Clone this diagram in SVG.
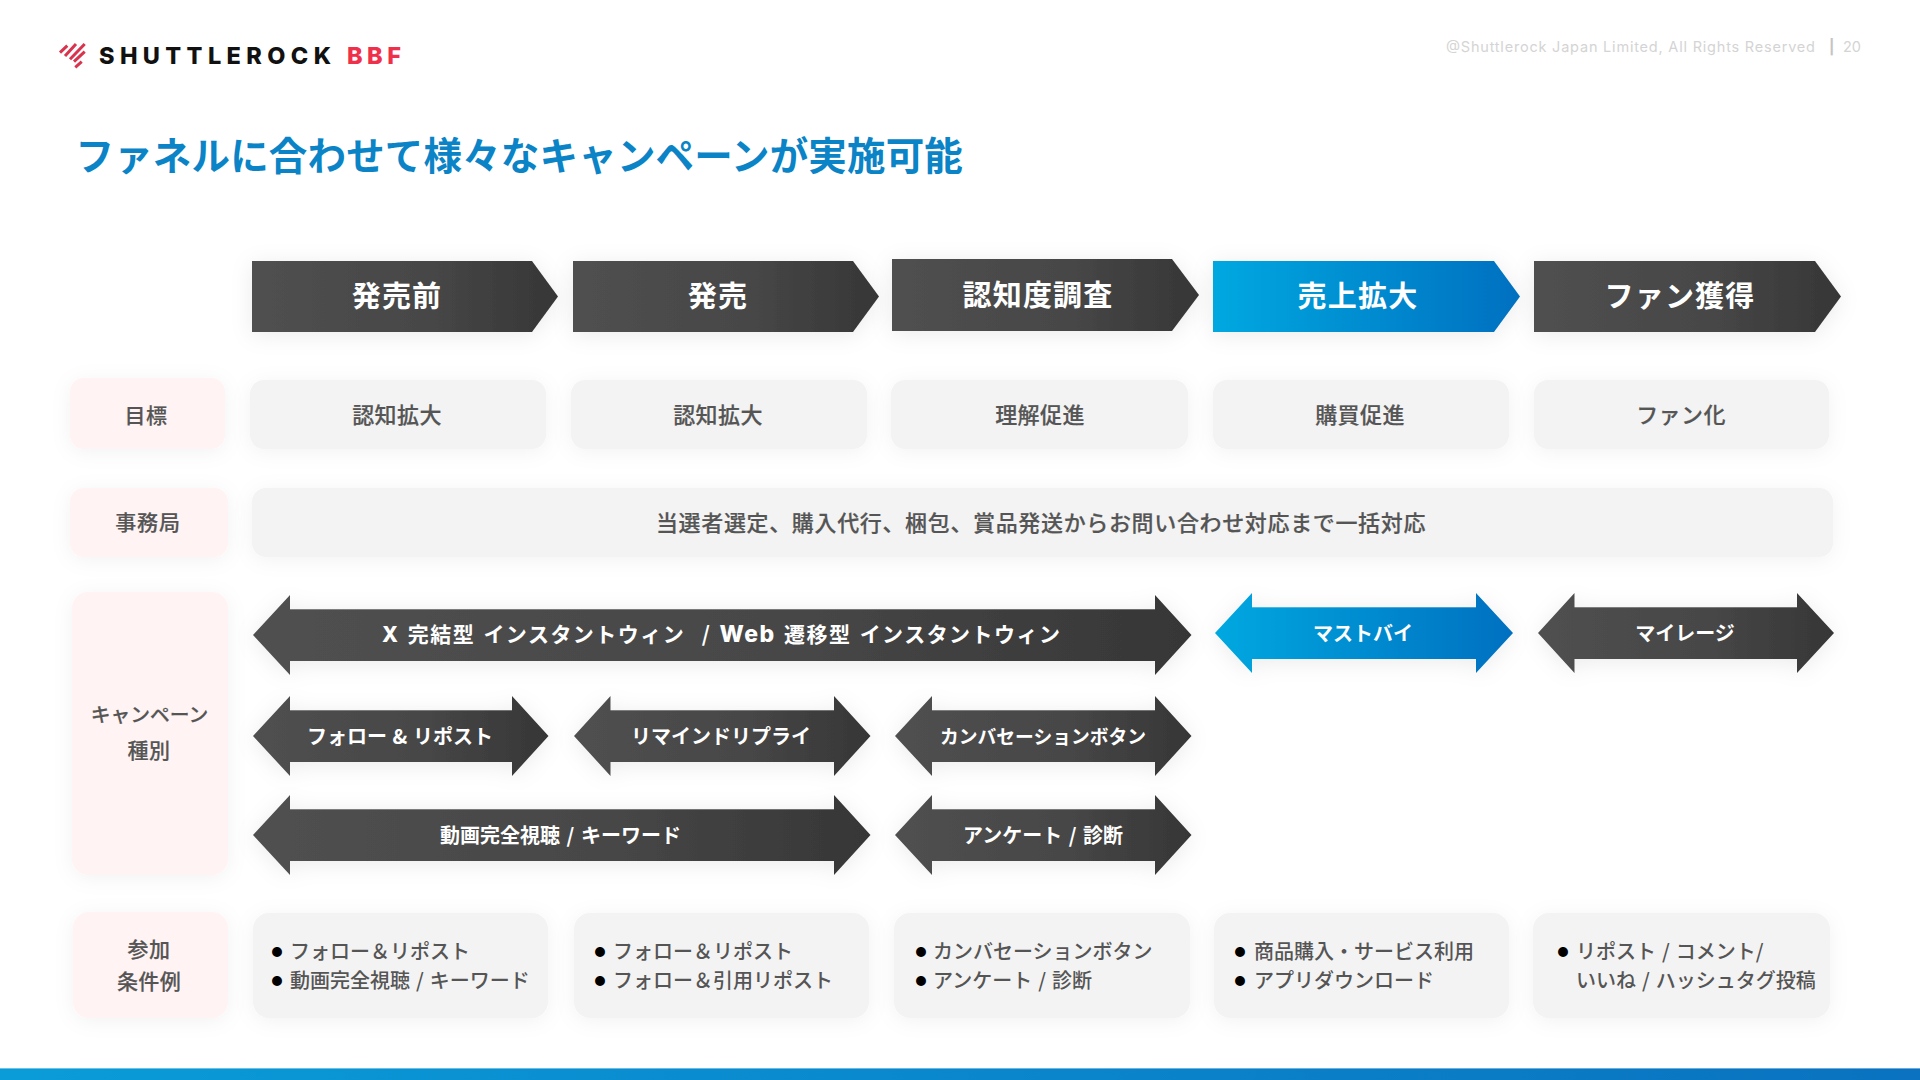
<svg xmlns="http://www.w3.org/2000/svg" width="1920" height="1080" viewBox="0 0 1920 1080">
<style>
text{font-family:"Noto Sans CJK JP","Noto Sans",sans-serif;text-anchor:middle}
.h{font-size:29px;font-weight:700;fill:#fff;letter-spacing:1.2px}
.c{font-size:22px;font-weight:500;fill:#555;letter-spacing:.4px;stroke:#555;stroke-width:.2px}
.l{font-size:21px;font-weight:500;fill:#555;letter-spacing:.4px;stroke:#555;stroke-width:.2px}
.a{font-size:20px;font-weight:700;fill:#fff;word-spacing:2px}
.b{font-size:20px;font-weight:500;fill:#555;text-anchor:start;word-spacing:1.5px}
.d{font-size:11px;fill:#000}
.cell{fill:#f3f3f3;filter:url(#s)}
.lab{fill:#fff3f3;filter:url(#s)}
.dk{fill:url(#gd);filter:url(#s2)}
.bl{fill:url(#gb);filter:url(#s2)}
.hl{stroke:#fff;stroke-opacity:.28;stroke-width:1}
.st{stroke:#d9344e;stroke-width:3;fill:none}
.logo{font-family:Inter,sans-serif;font-weight:800;font-size:23.5px;text-anchor:start}
.cp{font-family:Inter,sans-serif;font-size:14.5px;fill:#d4d4d4;text-anchor:start}
.w{font-family:Inter,sans-serif;font-weight:800}
</style>
<defs>
<linearGradient id="gd" x1="0" y1="0" x2="1" y2="0"><stop offset="0" stop-color="#505050"/><stop offset=".6" stop-color="#464646"/><stop offset="1" stop-color="#363636"/></linearGradient>
<linearGradient id="gb" x1="0" y1="0" x2="1" y2="0"><stop offset="0" stop-color="#00a8e0"/><stop offset="1" stop-color="#0070c0"/></linearGradient>
<linearGradient id="gbar" x1="0" y1="0" x2="1" y2="0"><stop offset="0" stop-color="#0a9cd9"/><stop offset="1" stop-color="#0a72c0"/></linearGradient>
<filter id="s" x="-20%" y="-40%" width="140%" height="180%"><feDropShadow dx="0" dy="3" stdDeviation="10" flood-color="#000" flood-opacity=".05"/></filter>
<filter id="s2" x="-10%" y="-40%" width="120%" height="180%"><feDropShadow dx="0" dy="3" stdDeviation="11" flood-color="#000" flood-opacity=".08"/></filter>
</defs>
<rect width="1920" height="1080" fill="#fff"/>
<g id="logo">
<path class="st" d="M60 52.700L67.300 45.700M65 56L76 44M70 59.300L84.700 44M74 61.700L84.700 51.700M75.300 67.300L81.700 61.700"/>
<text class="logo" x="99" y="64" fill="#111" textLength="232">SHUTTLEROCK</text>
<text class="logo" x="347" y="64" fill="#f0304a" textLength="54">BBF</text>
</g>
<g id="copyright">
<text class="cp" x="1446" y="52" textLength="369">@Shuttlerock Japan Limited, All Rights Reserved</text>
<text class="cp" x="1829" y="52" style="font-weight:700;fill:#c4c4c4">|</text>
<text class="cp" x="1843" y="52">20</text>
</g>
<g id="title"><text x="75.5" y="170" style="text-anchor:start;font-size:38.5px;font-weight:700;fill:#0a84c6;letter-spacing:.17px">ファネルに合わせて様々なキャンペーンが実施可能</text></g>

<g id="header-1"><polygon class="dk" points="252,261 532,261 558,296.5 532,332 252,332"/><text class="h" x="397" y="307">発売前</text></g>
<g id="header-2"><polygon class="dk" points="573,261 853,261 879,296.5 853,332 573,332"/><text class="h" x="718" y="307">発売</text></g>
<g id="header-3"><polygon class="dk" points="892,259 1172,259 1199,295 1172,331 892,331"/><text class="h" x="1038" y="306">認知度調査</text></g>
<g id="header-4"><polygon class="bl" points="1213,261 1494,261 1520,296.5 1494,332 1213,332"/><text class="h" x="1358" y="307">売上拡大</text></g>
<g id="header-5"><polygon class="dk" points="1534,261 1815,261 1841,296.5 1815,332 1534,332"/><text class="h" x="1680" y="307">ファン獲得</text></g>

<g id="label-goal"><rect class="lab" x="70" y="378" width="155" height="71" rx="14"/><text class="l" x="146" y="423">目標</text></g>
<g id="goal-1"><rect class="cell" x="250" y="380" width="296" height="69" rx="14"/><text class="c" x="397" y="423">認知拡大</text></g>
<g id="goal-2"><rect class="cell" x="571" y="380" width="296" height="69" rx="14"/><text class="c" x="718" y="423">認知拡大</text></g>
<g id="goal-3"><rect class="cell" x="891" y="380" width="297" height="69" rx="14"/><text class="c" x="1040" y="423">理解促進</text></g>
<g id="goal-4"><rect class="cell" x="1213" y="380" width="296" height="69" rx="14"/><text class="c" x="1360" y="423">購買促進</text></g>
<g id="goal-5"><rect class="cell" x="1534" y="380" width="295" height="69" rx="14"/><text class="c" x="1681" y="423">ファン化</text></g>

<g id="label-office"><rect class="lab" x="70" y="488" width="158" height="69" rx="14"/><text class="l" x="148" y="530" style="letter-spacing:.8px">事務局</text></g>
<g id="office"><rect class="cell" x="252" y="488" width="1581" height="69" rx="14"/><text class="c" style="letter-spacing:.65px" x="1041" y="531">当選者選定、購入代行、梱包、賞品発送からお問い合わせ対応まで一括対応</text></g>

<g id="label-campaign"><rect class="lab" x="72" y="592" width="156" height="283" rx="16"/><text class="l" x="149.5" y="722" style="font-size:19.8px;letter-spacing:0">キャンペーン</text><text class="l" x="149" y="758">種別</text></g>

<g id="connectors">
<g id="arrow-x-web"><polygon class="dk" points="253,635 290,595 290,609 1155,609 1155,595 1191.5,635 1155,675 1155,661 290,661 290,675"/><path class="hl" d="M290 609.500H1155"/><text class="a" x="721" y="642" style="font-size:21px" textLength="678"><tspan class="w">X</tspan> 完結型 インスタントウィン &#160;/ <tspan class="w" style="font-size:23px">Web</tspan> 遷移型 インスタントウィン</text></g>
<g id="arrow-mustbuy"><polygon class="bl" points="1215,633 1252,593 1252,607 1476,607 1476,593 1513,633 1476,673 1476,659 1252,659 1252,673"/><path class="hl" d="M1252 607.500H1476"/><text class="a" x="1363" y="641">マストバイ</text></g>
<g id="arrow-mileage"><polygon class="dk" points="1538,633 1574.5,593 1574.5,607 1797,607 1797,593 1834,633 1797,673 1797,659 1574.5,659 1574.5,673"/><path class="hl" d="M1574.500 607.500H1797"/><text class="a" x="1685" y="641">マイレージ</text></g>
<g id="arrow-follow"><polygon class="dk" points="253,736 290,696 290,710 512,710 512,696 548.5,736 512,776 512,762 290,762 290,776"/><path class="hl" d="M290 710.500H512"/><text class="a" x="400" y="744" style="word-spacing:1px">フォロー &amp; リポスト</text></g>
<g id="arrow-remind"><polygon class="dk" points="574,736 610.5,696 610.5,710 834,710 834,696 870.5,736 834,776 834,762 610.5,762 610.5,776"/><path class="hl" d="M610.500 710.500H834"/><text class="a" x="721" y="744">リマインドリプライ</text></g>
<g id="arrow-conv"><polygon class="dk" points="895,736 932,696 932,710 1155,710 1155,696 1191.5,736 1155,776 1155,762 932,762 932,776"/><path class="hl" d="M932 710.500H1155"/><text class="a" x="1043" y="744" style="font-size:18.8px">カンバセーションボタン</text></g>
<g id="arrow-video"><polygon class="dk" points="253,835 290,795 290,809 834,809 834,795 870.5,835 834,875 834,861 290,861 290,875"/><path class="hl" d="M290 809.500H834"/><text class="a" x="560.500" y="843">動画完全視聴 / キーワード</text></g>
<g id="arrow-survey"><polygon class="dk" points="895,835 932,795 932,809 1155,809 1155,795 1191.5,835 1155,875 1155,861 932,861 932,875"/><path class="hl" d="M932 809.500H1155"/><text class="a" x="1043" y="843">アンケート / 診断</text></g>
</g>

<g id="label-cond"><rect class="lab" x="73" y="912" width="155" height="106" rx="16"/><text class="l" x="149" y="957">参加</text><text class="l" x="149" y="989">条件例</text></g>
<g id="cond-1"><rect class="cell" x="253" y="913" width="295" height="105" rx="16"/><text class="d" x="277" y="956">●</text><text class="d" x="277" y="985">●</text><text class="b" x="290" y="959">フォロー＆リポスト</text><text class="b" x="290" y="988">動画完全視聴 / キーワード</text></g>
<g id="cond-2"><rect class="cell" x="574" y="913" width="295" height="105" rx="16"/><text class="d" x="600" y="956">●</text><text class="d" x="600" y="985">●</text><text class="b" x="613" y="959">フォロー＆リポスト</text><text class="b" x="613" y="988">フォロー＆引用リポスト</text></g>
<g id="cond-3"><rect class="cell" x="894" y="913" width="296" height="105" rx="16"/><text class="d" x="921" y="956">●</text><text class="d" x="921" y="985">●</text><text class="b" x="933" y="959">カンバセーションボタン</text><text class="b" x="933" y="988">アンケート / 診断</text></g>
<g id="cond-4"><rect class="cell" x="1214" y="913" width="295" height="105" rx="16"/><text class="d" x="1240" y="956">●</text><text class="d" x="1240" y="985">●</text><text class="b" x="1254" y="959">商品購入・サービス利用</text><text class="b" x="1254" y="988">アプリダウンロード</text></g>
<g id="cond-5"><rect class="cell" x="1533" y="913" width="297" height="105" rx="16"/><text class="d" x="1563" y="956">●</text><text class="b" x="1576" y="959">リポスト / コメント/</text><text class="b" x="1576" y="988">いいね / ハッシュタグ投稿</text></g>

<g id="bar"><rect x="0" y="1068" width="1920" height="12" fill="url(#gbar)"/><rect x="0" y="1068" width="1920" height="1" fill="#fff" opacity=".4"/></g>
</svg>
